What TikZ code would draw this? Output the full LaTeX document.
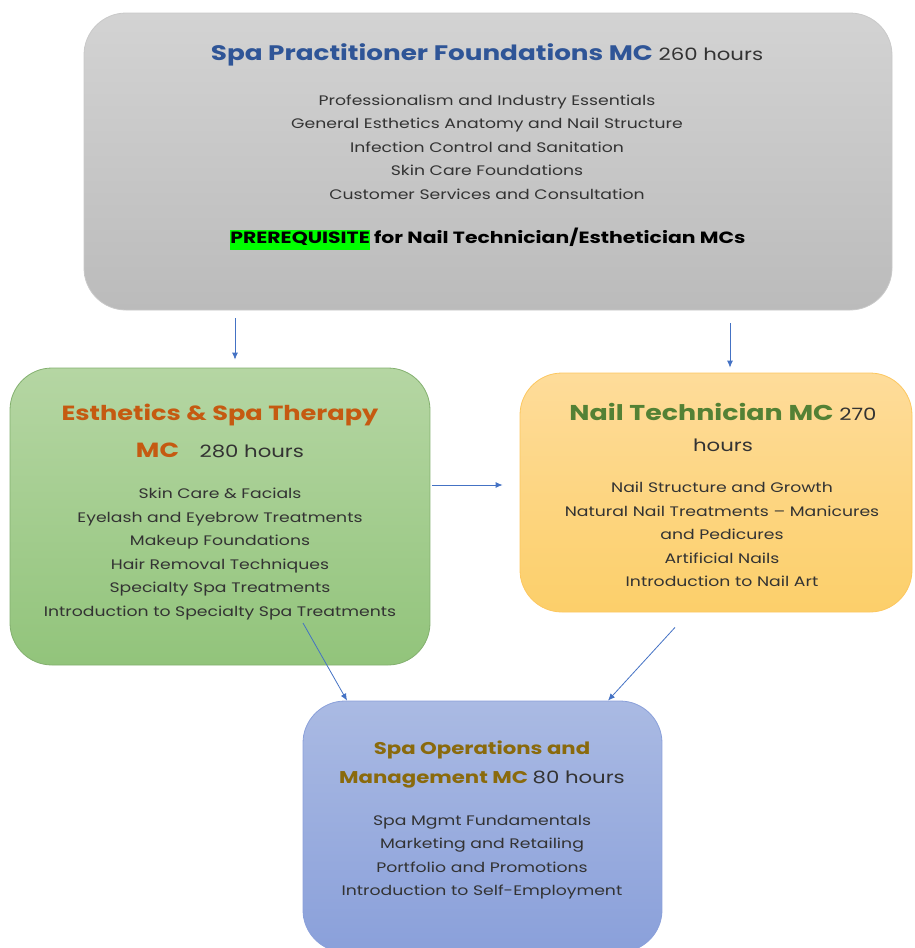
\documentclass[tikz,border=0pt]{standalone}
\usepackage{fontspec}
\setmainfont[FakeStretch=1.25]{Poppins}
\usetikzlibrary{arrows.meta}
\definecolor{graytop}{HTML}{D3D3D3}
\definecolor{graybot}{HTML}{BBBBBB}
\definecolor{greentop}{HTML}{B5D6A3}
\definecolor{greenbot}{HTML}{92C47B}
\definecolor{orangetop}{HTML}{FEDC9A}
\definecolor{orangebot}{HTML}{FCCF6A}
\definecolor{bluetop}{HTML}{AABAE3}
\definecolor{bluebot}{HTML}{8AA0DA}
\definecolor{linkblue}{HTML}{4472C4}
\definecolor{titleblue}{HTML}{2F5597}
\definecolor{titleorange}{HTML}{C55A11}
\definecolor{titlegreen}{HTML}{538135}
\definecolor{titlegold}{HTML}{8A6A0C}
\definecolor{txt}{HTML}{333333}
\definecolor{prereq}{HTML}{00FF00}
\begin{document}
\begin{tikzpicture}[x=1pt,y=-1pt,
    box/.style={rectangle,rounded corners=42pt,inner sep=0pt,line width=0.8pt},
    title/.style={align=center,font=\fontsize{21}{31}\selectfont\bfseries},
    items/.style={align=center,text=txt,font=\fontsize{13.8}{23.5}\selectfont},
    link/.style={draw=linkblue,line width=0.8pt,-{Latex[length=7pt,width=6pt]}}]
  \useasboundingbox (0,0) rectangle (915,948);
  \clip (0,0) rectangle (915,948);
  \node[box,draw=graybot!80,top color=graytop,bottom color=graybot,minimum width=808pt,minimum height=297pt] (found) at (488,161.5) {};
  \node[box,draw=greenbot!90!black,top color=greentop,bottom color=greenbot,minimum width=420pt,minimum height=297pt] (esth) at (220,516.5) {};
  \node[box,draw=orangebot!90!orange,top color=orangetop,bottom color=orangebot,minimum width=392pt,minimum height=239pt] (nail) at (716,492.5) {};
  \node[box,draw=bluebot,top color=bluetop,bottom color=bluebot,minimum width=359pt,minimum height=251pt] (oper) at (482.5,826.5) {};
  \node[title] (foundtitle) at (487,55) {\textcolor{titleblue}{Spa Practitioner Foundations MC} {\mdseries\fontsize{17}{20}\selectfont\color{txt}260 hours}};
  \node[items] (founditems) at (487,147) {Professionalism and Industry Essentials\\General Esthetics Anatomy and Nail Structure\\Infection Control and Sanitation\\Skin Care Foundations\\Customer Services and Consultation};
  \node[font=\fontsize{16.3}{18}\selectfont\bfseries,inner sep=0pt] (foundnote) at (488,239) {\setlength{\fboxsep}{0pt}\colorbox{prereq}{\strut\rule[-6pt]{0pt}{20pt}PREREQUISITE} for Nail Technician/Esthetician MCs};
  \node[title,font=\fontsize{20.5}{37}\selectfont\bfseries] (esthtitle) at (220,430.5) {\textcolor{titleorange}{Esthetics \& Spa Therapy}\\\textcolor{titleorange}{MC}\quad{\mdseries\fontsize{17}{20}\selectfont\color{txt}280 hours}};
  \node[items] (esthitems) at (220,554) {Skin Care \& Facials\\Eyelash and Eyebrow Treatments\\Makeup Foundations\\Hair Removal Techniques\\Specialty Spa Treatments\\Introduction to Specialty Spa Treatments};
  \node[title,font=\fontsize{21.5}{31}\selectfont\bfseries] (nailtitle) at (723,427.5) {\textcolor{titlegreen}{Nail Technician MC} {\mdseries\fontsize{17}{20}\selectfont\color{txt}270}\\{\mdseries\fontsize{17}{20}\selectfont\color{txt}hours}};
  \node[items] (nailitems) at (722,534.5) {Nail Structure and Growth\\Natural Nail Treatments -- Manicures\\and Pedicures\\Artificial Nails\\Introduction to Nail Art};
  \node[title,font=\fontsize{17}{29}\selectfont\bfseries] (opertitle) at (482,764.5) {\textcolor{titlegold}{Spa Operations and}\\\textcolor{titlegold}{Management MC} {\mdseries\color{txt}80 hours}};
  \node[items] (operitems) at (482,857) {Spa Mgmt Fundamentals\\Marketing and Retailing\\Portfolio and Promotions\\Introduction to Self-Employment};
  \draw[link,shorten <=8pt,shorten >=8pt] ([xshift=15pt]esth.north |- found.south) -- ([xshift=15pt]esth.north);
  \draw[link,shorten <=13pt,shorten >=5pt] ([xshift=14pt]nail.north |- found.south) -- ([xshift=14pt]nail.north);
  \path ([yshift=7.5pt]nail.west) coordinate (nailin);
  \draw[link,shorten <=2pt,shorten >=17pt] (esth.east |- nailin) -- (nailin);
  \draw[link] ([xshift=83pt,yshift=-106.5pt]esth.center) -- ([xshift=-135.5pt]oper.north);
  \draw[link] ([xshift=-41pt,yshift=-15pt]nail.south) -- ([xshift=125.5pt]oper.north);
\end{tikzpicture}
\end{document}
